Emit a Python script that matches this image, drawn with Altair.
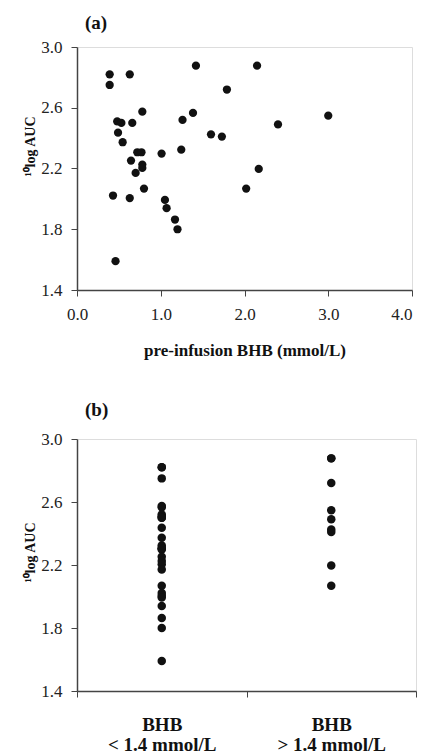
import altair as alt
import pandas as pd

# pre-infusion BHB (mmol/L) and 10log AUC
bhb = [0.39, 0.39, 0.63, 1.42, 2.15, 1.79, 0.78, 1.385, 1.26, 0.48, 0.53, 0.66,
       3.00, 2.40, 0.49, 1.60, 1.73, 0.545, 1.245, 1.01, 0.72, 0.77, 0.645,
       0.78, 0.78, 0.70, 2.17, 0.43, 0.63, 0.80, 2.02, 1.05, 1.07, 1.17, 1.20, 0.46]
auc = [2.82, 2.75, 2.82, 2.877, 2.877, 2.72, 2.574, 2.566, 2.52, 2.51, 2.50, 2.50,
       2.548, 2.49, 2.436, 2.425, 2.41, 2.373, 2.324, 2.298, 2.307, 2.307, 2.252,
       2.226, 2.204, 2.171, 2.197, 2.022, 2.005, 2.068, 2.068, 1.993, 1.939, 1.864, 1.80, 1.59]

group_labels = ["BHB\n< 1.4 mmol/L", "BHB\n> 1.4 mmol/L"]
x_ticks = [0, 1, 2, 3, 4]
y_ticks = [1.4, 1.8, 2.2, 2.6, 3.0]

df = pd.DataFrame({"bhb": bhb, "auc": auc})
df["group"] = [group_labels[0] if v < 1.4 else group_labels[1] for v in bhb]

FONT = "Times New Roman, Liberation Serif, serif"
AXIS_COLOR = "#444444"
FRAME = "#9aa0a6"
YTITLE = "\u00b9\u2070log AUC"

yaxis_common = dict(
    values=y_ticks, format=".1f", grid=False,
    domainColor=AXIS_COLOR, tickColor=AXIS_COLOR, tickSize=6, domainWidth=1.5,
    labelFont=FONT, labelFontSize=17, labelColor="#222", labelPadding=9,
    titleFont=FONT, titleFontSize=14, titleFontWeight="bold", titleColor="#111",
    title=YTITLE, titlePadding=3,
)

pa = alt.Chart(df).mark_circle(size=68, color="#111", opacity=1).encode(
    x=alt.X("bhb:Q", scale=alt.Scale(domain=[0, 4], nice=False),
            axis=alt.Axis(values=x_ticks, format=".1f", grid=False,
                          domainColor=AXIS_COLOR, tickColor=AXIS_COLOR, tickSize=6, domainWidth=1.5,
                          labelFont=FONT, labelFontSize=17, labelColor="#222", labelPadding=10,
                          labelAlign={"condition": {"test": "datum.value >= 4", "value": "right"},
                                      "value": "center"},
                          title="pre-infusion BHB (mmol/L)", titleFont=FONT, titleFontSize=17,
                          titleFontWeight="bold", titleColor="#111", titlePadding=20)),
    y=alt.Y("auc:Q", scale=alt.Scale(domain=[1.4, 3.0], nice=False, zero=False),
            axis=alt.Axis(titleY=99, **yaxis_common)),
).properties(
    width=335, height=243,
    title=alt.TitleParams("(a)", anchor="start", frame="group", dx=8, font=FONT, fontSize=19,
                          fontWeight="bold", color="#111", offset=5),
)

pb = alt.Chart(df).mark_circle(size=72, color="#111", opacity=1).encode(
    x=alt.X("group:N", sort=group_labels,
            scale=alt.Scale(domain=group_labels, paddingInner=0, paddingOuter=0),
            axis=alt.Axis(labelAngle=0, tickBand="extent", grid=False,
                          domainColor=AXIS_COLOR, tickColor=AXIS_COLOR, tickSize=6, domainWidth=1.5,
                          labelFont=FONT, labelFontSize=19, labelFontWeight="bold",
                          labelColor="#111", labelPadding=18, labelLineHeight=20,
                          labelExpr="split(datum.label, '\\n')", title=None)),
    y=alt.Y("auc:Q", scale=alt.Scale(domain=[1.4, 3.0], nice=False, zero=False),
            axis=alt.Axis(titleY=113, **yaxis_common)),
).properties(
    width=339, height=252,
    title=alt.TitleParams("(b)", anchor="start", frame="group", dx=8, font=FONT, fontSize=19,
                          fontWeight="bold", color="#111", offset=10),
)

chart = alt.vconcat(pa, pb, spacing=41).properties(
    padding={"left": 15, "top": 5, "right": 0, "bottom": 0}
).configure_view(
    stroke=FRAME, strokeWidth=1.5
).configure(background="white")

chart.save("out.html", embed_options={"renderer": "svg", "actions": False})
